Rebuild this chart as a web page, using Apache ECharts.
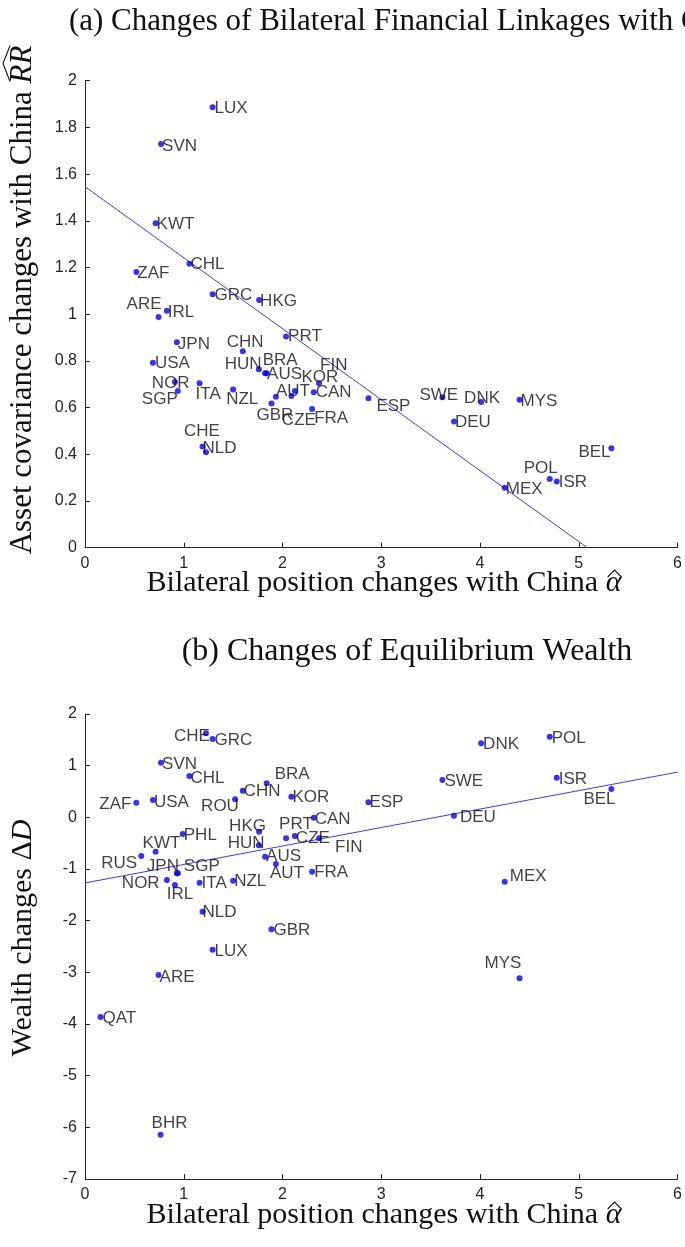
<!DOCTYPE html>
<html>
<head>
<meta charset="utf-8">
<script src="https://cdn.jsdelivr.net/npm/echarts@6/dist/echarts.min.js"></script>
<style>
html,body{margin:0;padding:0;background:#fff;}
#chart{width:685px;height:1247px;}
</style>
</head>
<body>
<div id="chart"></div>
<script>
// ---- data ----
const countries = ['LUX','SVN','KWT','CHL','ZAF','GRC','HKG','ARE','IRL','JPN','CHN','PRT','USA','HUN','BRA','AUS','KOR','FIN','CZE','AUT','CAN','GBR','FRA','NZL','ITA','NOR','SGP','CHE','NLD','ESP','SWE','DNK','MYS','DEU','BEL','POL','ISR','MEX','ROU','PHL','RUS','QAT','BHR'];
// Bilateral position changes with China (alpha hat) - shared x values
const alphaHat = [1.292,0.77,0.715,1.057,0.52,1.292,1.763,0.745,0.829,0.93,1.598,2.036,0.688,1.76,1.84,1.823,2.09,2.37,2.125,1.933,2.316,1.888,2.30,1.50,1.16,0.91,0.94,1.225,1.19,2.87,3.619,4.011,4.40,3.736,5.33,4.706,4.777,4.25,1.52,0.99,0.57,0.157,0.765];
// (a) asset covariance changes with China (RR hat); null = not shown
const covChange = [1.886,1.729,1.390,1.216,1.181,1.085,1.061,0.988,1.015,0.880,0.841,0.905,0.792,0.764,0.747,0.747,0.650,0.704,0.671,0.647,0.666,0.618,0.594,0.678,0.704,0.710,0.671,0.409,0.433,0.640,0.644,0.624,0.634,0.541,0.426,0.294,0.283,0.257,null,null,null,null,null];
// (b) wealth changes (Delta D)
const wealthChange = [-2.562,1.057,-0.666,0.799,0.283,1.515,-0.279,-3.052,-1.213,-1.084,0.515,-0.406,0.335,-0.542,0.658,-0.763,0.399,-0.406,-0.362,-0.904,-0.008,-2.168,-1.053,-1.227,-1.266,-1.31,-1.084,1.626,-1.827,0.29,0.722,1.432,-3.116,0.031,0.548,1.56,0.766,-1.246,0.348,-0.323,-0.749,-3.865,-6.143];
// fitted lines, endpoints
const fitA = [[0,1.546],[5.086,0]];
const fitB = [[0,-1.27],[6,0.875]];

// ---- label placement (style only) ----
const offA = {LUX:[2,1],SVN:[1,2],KWT:[1,1],CHL:[1,1],ZAF:[1,1],GRC:[2,1],HKG:[1,1],ARE:[-32,-13],IRL:[1,2],JPN:[1,2],CHN:[-16,-9],PRT:[2,0],USA:[2,1],HUN:[-34,-5],BRA:[-4,-13],AUS:[2,1],KOR:[10,-19],FIN:[1,-18],CZE:[-13,29],AUT:[0,-5],CAN:[2,0],GBR:[-15,12],FRA:[2,9],NZL:[-7,10],ITA:[-4,11],NOR:[-23,1],SGP:[-36,8],CHE:[-22,-21],NLD:[0,2],ESP:[8,8],SWE:[-23,-2],DNK:[-17,-4],MYS:[1,2],DEU:[1,1],BEL:[-33,4],POL:[-26,-11],ISR:[2,1],MEX:[1,2]};
const offB = {CHE:[-32,3],GRC:[2,1],SVN:[1,2],CHL:[1,2],BRA:[8,-9],CHN:[1,1],KOR:[1,1],ZAF:[-37,2],USA:[1,2],ROU:[-34,7],ESP:[1,0],CAN:[1,2],HKG:[-30,-5],PHL:[1,1],PRT:[-7,-14],CZE:[1,2],FIN:[16,9],HUN:[-31,-2],KWT:[-13,-8],AUS:[1,0],RUS:[-40,7],AUT:[-6,9],JPN:[-30,-7],SGP:[6,-7],FRA:[2,1],IRL:[0,14],NOR:[-53,-2],ITA:[2,1],NZL:[1,1],NLD:[0,1],GBR:[2,1],LUX:[2,2],ARE:[1,2],QAT:[2,1],BHR:[-9,-11],MYS:[-35,-15],DNK:[2,1],POL:[2,2],SWE:[2,1],ISR:[2,2],BEL:[-28,10],DEU:[6,2],MEX:[5,-5]};

function buildPoints(ys, offs){
  const out = [];
  countries.forEach((c,i)=>{
    if (ys[i] === null || ys[i] === undefined) return;
    out.push({name:c, value:[alphaHat[i], ys[i]], label:{offset: offs[c] || [1,1]}});
  });
  return out;
}

const SERIF = "'Liberation Serif', 'DejaVu Serif', serif";
const SANS = "'Liberation Sans', Arial, sans-serif";
const axisCol = '#262626';
const txtCol = '#111111';

// text measuring for the math labels
const mctx = document.createElement('canvas').getContext('2d');
function tw(txt, italic, fs){
  mctx.font = (italic ? 'italic ' : '') + fs + "px 'Liberation Serif'";
  return mctx.measureText(txt).width;
}
// axis title with an italic math part, optionally with a wide hat over it
function mathLabel(main, math, fs, cx, cy, rot, hat, hatBase, hatPeak){
  const w1 = tw(main, false, fs), w2 = tw(math, true, fs);
  const W = w1 + w2, x0 = -W/2, x2 = x0 + w1;
  const kids = [
    {type:'text', x:x0, y:0, style:{text:main, fontSize:fs, fontFamily:SERIF, fill:txtCol,
      align:'left', verticalAlign:'middle', textAlign:'left', textVerticalAlign:'middle'}},
    {type:'text', x:x2, y:0, style:{text:math, fontSize:fs, fontFamily:SERIF, fontStyle:'italic', fill:txtCol,
      align:'left', verticalAlign:'middle', textAlign:'left', textVerticalAlign:'middle'}}
  ];
  if (hat){
    kids.push({type:'polyline', shape:{points:[[x2+2, hatBase],[x2+w2/2+1, hatPeak],[x2+w2, hatBase]]},
      style:{stroke:txtCol, lineWidth:1.1, fill:null}});
  }
  return {type:'group', x:cx, y:cy, rotation:rot, silent:true, children:kids};
}

const commonX = {
  type:'value', min:0, max:6, interval:1,
  axisLine:{show:true, onZero:false, lineStyle:{color:axisCol, width:1}},
  axisTick:{show:true, inside:true, length:5, lineStyle:{color:axisCol}},
  axisLabel:{color:axisCol, fontSize:16, fontFamily:SANS, margin:8},
  splitLine:{show:false}
};
const commonYStyle = {
  axisLine:{show:true, onZero:false, lineStyle:{color:axisCol, width:1}},
  axisTick:{show:true, inside:true, length:5, lineStyle:{color:axisCol}},
  axisLabel:{color:axisCol, fontSize:16, fontFamily:SANS, margin:8},
  splitLine:{show:false}
};

const labelStyle = {show:true, position:'inside', align:'left', verticalAlign:'middle',
  formatter:'{b}', color:'#111111', fontSize:17, fontFamily:SANS};

const chart = echarts.init(document.getElementById('chart'), null, {renderer:'canvas'});
chart.setOption({
  animation:false,
  backgroundColor:'#ffffff',
  title:[
    {text:'(a) Changes of Bilateral Financial Linkages with China', left:407, top:0, textAlign:'center',
      textStyle:{fontFamily:SERIF, fontSize:31, fontWeight:'normal', color:txtCol, lineHeight:34}},
    {text:'(b) Changes of Equilibrium Wealth', left:402, top:630, textAlign:'center',
      textStyle:{fontFamily:SERIF, fontSize:32, fontWeight:'normal', color:txtCol, lineHeight:34}}
  ],
  graphic:[
    mathLabel('Asset covariance changes with China ', 'RR', 31, 23, 300, Math.PI/2, true, -13, -20),
    mathLabel('Wealth changes Δ', 'D', 30, 23, 938, Math.PI/2, false),
    mathLabel('Bilateral position changes with China ', 'α', 30, 384, 583, 0, true, -6, -13),
    mathLabel('Bilateral position changes with China ', 'α', 30, 384, 1215, 0, true, -6, -13)
  ],
  grid:[
    {left:85, top:80.7, width:594, height:467},
    {left:85, top:714, width:594, height:465}
  ],
  xAxis:[
    Object.assign({gridIndex:0}, commonX),
    Object.assign({gridIndex:1}, commonX)
  ],
  yAxis:[
    Object.assign({gridIndex:0, type:'value', min:0, max:2, interval:0.2}, commonYStyle),
    Object.assign({gridIndex:1, type:'value', min:-7, max:2, interval:1}, commonYStyle)
  ],
  series:[
    {type:'line', xAxisIndex:0, yAxisIndex:0, data:fitA, showSymbol:false, symbol:'none', clip:true,
      lineStyle:{color:'#3b3bff', width:1}, silent:true, z:1},
    {type:'line', xAxisIndex:1, yAxisIndex:1, data:fitB, showSymbol:false, symbol:'none', clip:true,
      lineStyle:{color:'#3b3bff', width:1}, silent:true, z:1},
    {type:'scatter', xAxisIndex:0, yAxisIndex:0, data:buildPoints(covChange, offA),
      symbolSize:6, itemStyle:{color:'#0000ff'}, label:labelStyle, silent:true, z:3},
    {type:'scatter', xAxisIndex:1, yAxisIndex:1, data:buildPoints(wealthChange, offB),
      symbolSize:6, itemStyle:{color:'#0000ff'}, label:labelStyle, silent:true, z:3}
  ]
});
</script>
</body>
</html>
